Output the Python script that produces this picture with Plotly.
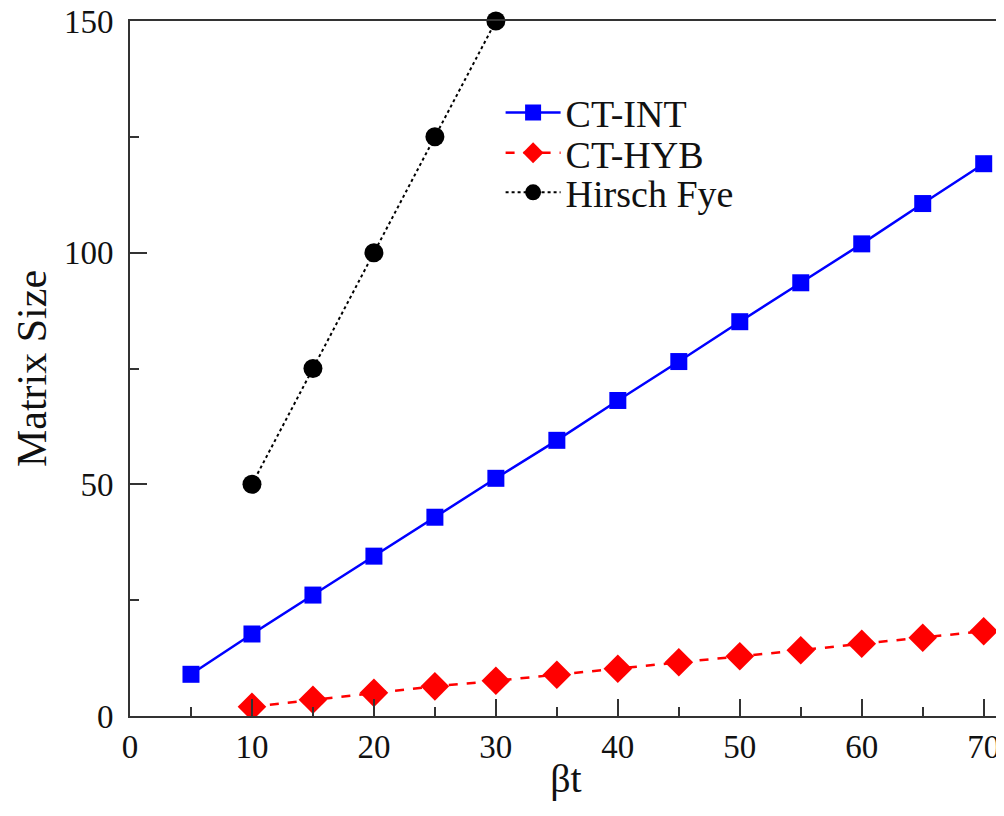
import plotly.graph_objects as go

x_int = [5, 10, 15, 20, 25, 30, 35, 40, 45, 50, 55, 60, 65, 70]
y_int = [9.0, 17.7, 26.1, 34.5, 42.9, 51.3, 59.5, 68.1, 76.5, 85.1, 93.5, 101.9, 110.6, 119.2]
x_hyb = [10, 15, 20, 25, 30, 35, 40, 45, 50, 55, 60, 65, 70]
y_hyb = [2.0, 3.5, 5.0, 6.4, 7.6, 8.9, 10.2, 11.6, 12.9, 14.2, 15.6, 16.9, 18.3]
x_hf = [10, 15, 20, 25, 30]
y_hf = [50, 75, 100, 125, 150]

FONT = "Liberation Serif"

fig = go.Figure()
fig.add_trace(go.Scatter(x=x_int, y=y_int, name="CT-INT", mode="lines+markers",
                         line=dict(color="#0000ff", width=2.5),
                         marker=dict(symbol="square", size=17, color="#0000ff"),
                         legend="legend"))
fig.add_trace(go.Scatter(x=x_hyb, y=y_hyb, name="CT-HYB", mode="lines+markers",
                         line=dict(color="#ff0000", width=2.5, dash="dash"),
                         marker=dict(symbol="diamond", size=22, color="#ff0000"),
                         legend="legend2"))
fig.add_trace(go.Scatter(x=x_hf, y=y_hf, name="Hirsch Fye", mode="lines+markers",
                         line=dict(color="#000000", width=2, dash="dot"),
                         marker=dict(symbol="circle", size=19, color="#000000"),
                         cliponaxis=False, legend="legend3"))

axis_common = dict(showgrid=False, zeroline=False, showline=True, mirror=True,
                   linecolor="#333333", linewidth=2, ticks="inside", ticklen=17,
                   tickwidth=1.5, tickcolor="#333333", automargin=False,
                   ticklabeloverflow="allow",
                   tickfont=dict(family=FONT, size=33, color="#111111"))

fig.update_xaxes(range=[0, 71.5], tickvals=[0, 10, 20, 30, 40, 50, 60, 70],
                 minor=dict(dtick=5, tick0=0, ticks="inside", ticklen=9, tickwidth=1.5, tickcolor="#333333"),
                 title=dict(text="βt", font=dict(family=FONT, size=40, color="#111111"), standoff=0),
                 **axis_common)
fig.update_yaxes(range=[0, 150], tickvals=[0, 50, 100, 150],
                 ticklabelstandoff=8,
                 minor=dict(dtick=25, tick0=0, ticks="inside", ticklen=9, tickwidth=1.5, tickcolor="#333333"),
                 title=dict(text="Matrix Size", font=dict(family=FONT, size=42, color="#111111"), standoff=4),
                 **axis_common)

leg_common = dict(x=0.425, xanchor="left", yanchor="middle", bgcolor="rgba(0,0,0,0)",
                  font=dict(family=FONT, size=38, color="#111111"), itemwidth=55)

fig.update_layout(width=996, height=808,
                  margin=dict(l=122, r=2, t=13, b=100),
                  plot_bgcolor="white", paper_bgcolor="white",
                  legend=dict(y=0.868, **leg_common),
                  legend2=dict(y=0.810, **leg_common),
                  legend3=dict(y=0.753, **leg_common),
                  showlegend=True)

fig.write_html("out.html")
